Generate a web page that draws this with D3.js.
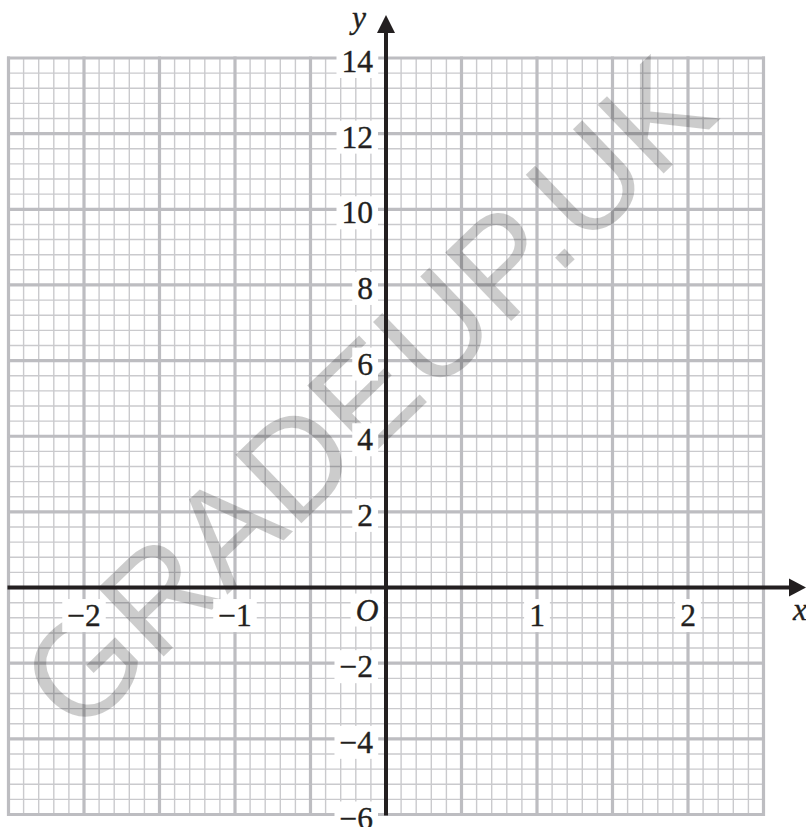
<!DOCTYPE html>
<html>
<head>
<meta charset="utf-8">
<script src="https://cdn.jsdelivr.net/npm/d3@7"></script>
<style>
  html, body { margin: 0; padding: 0; background: #fff; }
  svg { display: block; }
  .lbl { font-family: 'Liberation Serif', 'Times New Roman', Times, serif; font-size: 31.5px; fill: #231f20; stroke: #231f20; stroke-width: 0.35px; }
  .wm { font-family: 'Liberation Sans', Arial, Helvetica, sans-serif; font-size: 138px; }
</style>
</head>
<body>
<svg id="chart" width="806" height="827"></svg>
<script>
// ---- data ----
const xDomain = [-2.5, 2.5];
const yDomain = [-6, 14];
const xTickValues = [-2, -1, 1, 2];
const xTickLabels = ["−2", "−1", "1", "2"];
const yTickValues = [-6, -4, -2, 2, 4, 6, 8, 10, 12, 14];
const yTickLabels = ["−6", "−4", "−2", "2", "4", "6", "8", "10", "12", "14"];
const xMinorStep = 0.1, xMajorStep = 0.5;
const yMinorStep = 0.4, yMajorStep = 2;
const watermarkText = "GRADEUP.UK";

// ---- setup ----
const svg = d3.select("#chart");
const x = d3.scaleLinear().domain(xDomain).range([8.5, 763.5]);
const y = d3.scaleLinear().domain(yDomain).range([814.5, 58]);

function steps(lo, hi, step) {
  const n = Math.round((hi - lo) / step);
  return d3.range(n + 1).map(i => +(lo + i * step).toFixed(6));
}
const isMultiple = (v, s) => Math.abs(v / s - Math.round(v / s)) < 1e-6;

const xs = steps(xDomain[0], xDomain[1], xMinorStep);
const ys = steps(yDomain[0], yDomain[1], yMinorStep);

const grid = svg.append("g");
grid.selectAll("line.vmin").data(xs.filter(v => !isMultiple(v, xMajorStep)))
  .join("line").attr("x1", d => x(d)).attr("x2", d => x(d))
  .attr("y1", y(yDomain[0])).attr("y2", y(yDomain[1]))
  .attr("stroke", "#cacacd").attr("stroke-width", 1.4);
grid.selectAll("line.hmin").data(ys.filter(v => !isMultiple(v, yMajorStep)))
  .join("line").attr("y1", d => y(d)).attr("y2", d => y(d))
  .attr("x1", x(xDomain[0])).attr("x2", x(xDomain[1]))
  .attr("stroke", "#cacacd").attr("stroke-width", 1.4);
grid.selectAll("line.vmaj").data(xs.filter(v => isMultiple(v, xMajorStep)))
  .join("line").attr("x1", d => x(d)).attr("x2", d => x(d))
  .attr("y1", y(yDomain[0]) + 1.5).attr("y2", y(yDomain[1]) - 1.5)
  .attr("stroke", "#bdbdc1").attr("stroke-width", 3.2);
grid.selectAll("line.hmaj").data(ys.filter(v => isMultiple(v, yMajorStep)))
  .join("line").attr("y1", d => y(d)).attr("y2", d => y(d))
  .attr("x1", x(xDomain[0]) - 1.5).attr("x2", x(xDomain[1]) + 1.5)
  .attr("stroke", "#bdbdc1").attr("stroke-width", 3.2);

// watermark
svg.append("text")
  .attr("class", "wm")
  .attr("transform", "translate(400,428) rotate(-44)")
  .attr("text-anchor", "middle")
  .attr("fill", "#000").attr("fill-opacity", 0.2)
  .text(watermarkText);

function addLabel(g, tx, ty, txt, anchor, italic) {
  return g.append("text").attr("class", "lbl").attr("x", tx).attr("y", ty)
    .attr("text-anchor", anchor)
    .style("font-style", italic ? "italic" : "normal")
    .text(txt);
}
const labels = svg.append("g");
const boxes = labels.append("g");
const texts = labels.append("g");

yTickValues.forEach((v, i) => {
  addLabel(texts, 373, y(v) + 14, yTickLabels[i], "end", false);
});
xTickValues.forEach((v, i) => {
  addLabel(texts, x(v), y(0) + 38.5, xTickLabels[i], "middle", false);
});
addLabel(texts, 367, y(0) + 33, "O", "middle", true);

texts.selectAll("text").each(function () {
  const b = this.getBBox();
  boxes.append("rect")
    .attr("x", b.x - 5).attr("y", b.y + 1)
    .attr("width", b.width + 10).attr("height", b.height - 2)
    .attr("fill", "#fff");
});

// axes
const axes = svg.append("g");
axes.append("line")
  .attr("x1", x(xDomain[0]) - 1).attr("x2", 792)
  .attr("y1", y(0)).attr("y2", y(0))
  .attr("stroke", "#231f20").attr("stroke-width", 4);
axes.append("path")
  .attr("d", `M806,${y(0)} L789,${y(0) - 9} L789,${y(0) + 9} Z`)
  .attr("fill", "#231f20");
axes.append("line")
  .attr("x1", x(0)).attr("x2", x(0))
  .attr("y1", y(yDomain[0]) + 1).attr("y2", 32)
  .attr("stroke", "#231f20").attr("stroke-width", 4);
axes.append("path")
  .attr("d", `M${x(0)},15 L${x(0) - 9},33 L${x(0) + 9},33 Z`)
  .attr("fill", "#231f20");

addLabel(axes, 359, 28, "y", "middle", true);
addLabel(axes, 793, 620, "x", "start", true);
</script>
</body>
</html>
